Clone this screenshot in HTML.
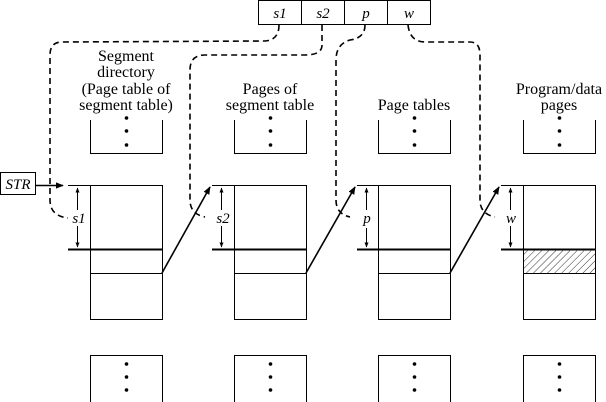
<!DOCTYPE html>
<html><head><style>
html,body{margin:0;padding:0;background:#fff;}
svg{display:block;}
text{font-family:"Liberation Serif","DejaVu Serif",serif;}
</style></head><body>
<svg width="606" height="402" viewBox="0 0 606 402" xmlns="http://www.w3.org/2000/svg" font-family="Liberation Serif, DejaVu Serif, serif">
<defs>
<marker id="ah" viewBox="0 0 10 10" refX="9" refY="5" markerWidth="8" markerHeight="8" orient="auto-start-reverse" markerUnits="userSpaceOnUse"><path d="M0,1 L10,5 L0,9 z" fill="#000"/></marker>
<marker id="sh" viewBox="0 0 10 10" refX="9" refY="5" markerWidth="5" markerHeight="6" orient="auto-start-reverse" markerUnits="userSpaceOnUse"><path d="M0,1 L10,5 L0,9 z" fill="#000"/></marker>
<pattern id="hatch" width="5" height="5" patternUnits="userSpaceOnUse" patternTransform="rotate(45)"><line x1="0" y1="0" x2="0" y2="5" stroke="#333" stroke-width="1"/></pattern>
</defs>
<g stroke="#000" fill="none" stroke-width="1">
<rect x="258.5" y="0.5" width="172" height="24"/>
<line x1="301.5" y1="0" x2="301.5" y2="24"/>
<line x1="344.5" y1="0" x2="344.5" y2="24"/>
<line x1="387.5" y1="0" x2="387.5" y2="24"/>
<rect x="0.5" y="172.5" width="35" height="22"/>
</g>
<g font-style="italic" font-size="15" text-anchor="middle">
<text x="280" y="18">s1</text><text x="323" y="18">s2</text><text x="366" y="18">p</text><text x="409" y="18">w</text>
<text x="18" y="189">STR</text>
</g>
<g stroke="#000" fill="none" stroke-width="1">
<g id="c1">
<polyline points="90.5,120 90.5,153.5 162.5,153.5 162.5,120"/>
<rect x="90.5" y="185.5" width="72" height="134"/>
<line x1="90" y1="249.5" x2="163" y2="249.5" stroke-width="2"/>
<line x1="90" y1="273.5" x2="163" y2="273.5"/>
<polyline points="90.5,402 90.5,355.5 162.5,355.5 162.5,402"/>
</g>
<use href="#c1" x="144"/>
<use href="#c1" x="288"/>
<use href="#c1" x="433"/>
</g>
<rect x="524" y="250" width="71" height="23" fill="url(#hatch)"/>
<g fill="#000">
<g id="d1"><circle cx="126.5" cy="118" r="1.8"/><circle cx="126.5" cy="131" r="1.8"/><circle cx="126.5" cy="145" r="1.8"/>
<circle cx="126.5" cy="364" r="1.8"/><circle cx="126.5" cy="377" r="1.8"/><circle cx="126.5" cy="390" r="1.8"/></g>
<use href="#d1" x="144"/><use href="#d1" x="288"/><use href="#d1" x="433"/>
</g>
<g stroke="#000" fill="none">
<g id="b1">
<line x1="68" y1="185.5" x2="90" y2="185.5"/>
<line x1="68" y1="249.5" x2="90" y2="249.5" stroke-width="2"/>
<line x1="77.5" y1="188" x2="77.5" y2="210" marker-start="url(#sh)"/>
<line x1="77.5" y1="226" x2="77.5" y2="247" marker-end="url(#sh)"/>
</g>
<use href="#b1" x="144"/><use href="#b1" x="289"/><use href="#b1" x="433"/>
</g>
<g font-style="italic" font-size="15" text-anchor="middle" fill="#000">
<text x="79" y="223" stroke="#fff" stroke-width="4" paint-order="stroke">s1</text>
<text x="223" y="223" stroke="#fff" stroke-width="4" paint-order="stroke">s2</text>
<text x="367" y="223" stroke="#fff" stroke-width="4" paint-order="stroke">p</text>
<text x="511" y="223" stroke="#fff" stroke-width="4" paint-order="stroke">w</text>
</g>
<g font-size="16" text-anchor="middle" fill="#000">
<text x="126" y="61">Segment</text><text x="126" y="77">directory</text><text x="126" y="94">(Page table of</text><text x="126" y="110">segment table)</text>
<text x="270" y="94">Pages of</text><text x="270" y="110">segment table</text>
<text x="414" y="110">Page tables</text>
<text x="559" y="94">Program/data</text><text x="559" y="110">pages</text>
</g>
<g stroke="#000" fill="none" stroke-width="1.6" stroke-dasharray="6,4">
<path d="M279,25 Q279,40 265,41 L62,42 Q50,42 50,55 L50,200 Q50,216 68,218"/>
<path d="M322,25 L322,45 Q322,55 305,55 L205,55 Q190,55 190,70 L190,200 Q190,214 205,217"/>
<path d="M365,25 Q365,38 350,40 Q336,44 336,60 L336,200 Q336,214 350,217"/>
<path d="M408,25 Q410,42 425,42 L470,42 Q480,42 480,55 L480,200 Q480,214 495,217"/>
</g>
<g stroke="#000" stroke-width="1.6" fill="none">
<line x1="36" y1="185.5" x2="63" y2="185.5" marker-end="url(#ah)"/>
<line x1="162" y1="273" x2="210" y2="187" marker-end="url(#ah)"/>
<line x1="306" y1="273" x2="355" y2="187" marker-end="url(#ah)"/>
<line x1="450" y1="273" x2="499" y2="187" marker-end="url(#ah)"/>
</g>
</svg>
</body></html>
